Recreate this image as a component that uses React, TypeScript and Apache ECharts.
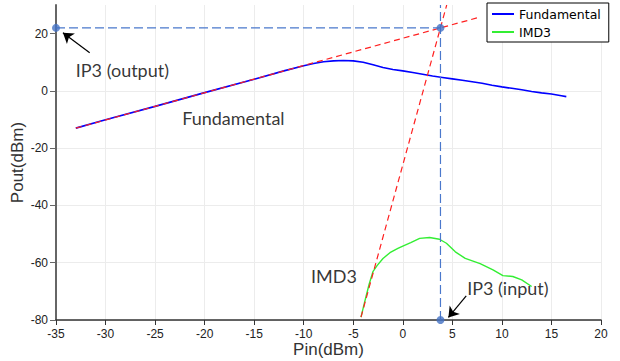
import React, { useEffect, useRef } from "react";
import * as echarts from "echarts";

// Axis settings
const xMin = -35;
const xMax = 20;
const xStep = 5;
const yMin = -80;
const yMax = 30;
const yStep = 20;
const yTickValues = [-80, -60, -40, -20, 0, 20];

// Fundamental output (dBm) vs input (dBm)
const fundX = [-33, -30, -25, -20, -15, -12, -10, -9, -8, -7, -6, -5, -4, -3, -2, -1, 0, 1, 2, 3, 4, 5, 6, 7, 8, 9, 10, 11, 12, 13, 14, 15, 16, 16.5];
const fundY = [-13, -10.1, -5.4, -0.6, 4.1, 7.0, 8.8, 9.6, 10.2, 10.5, 10.6, 10.5, 10.0, 9.1, 8.2, 7.5, 7.0, 6.4, 5.8, 5.2, 4.7, 4.2, 3.7, 3.2, 2.7, 2.0, 1.4, 0.9, 0.4, -0.2, -0.7, -1.1, -1.7, -2.0];

// IMD3 output
const imdX = [-4.22, -3.8, -3.4, -3.0, -2.6, -2.0, -1.3, -0.5, 0, 0.8, 1.7, 2.7, 3.7, 4.4, 5.3, 6.3, 7.8, 9.1, 10.1, 11.1, 12, 13];
const imdY = [-79, -73, -67.5, -63, -61, -58.5, -56.5, -55, -54.2, -53, -51.5, -51.2, -51.8, -53.2, -56.2, -58.5, -60.3, -62.5, -64.5, -64.8, -66, -68.3];

// Extrapolation lines (end points)
const fundExtX = [-33, 7.8];
const fundExtY = [-13, 25.8];
const imdExtX = [-4.22, 4.43];
const imdExtY = [-79, 30];

// Third-order intercept point
const ip3In = 3.8;
const ip3Out = 22;

// Annotations
const noteNames = ["IP3 (output)", "Fundamental", "IMD3", "IP3 (input)"];
const noteX = [-28.3, -17.1, -6.95, 10.6];
const noteY = [7.3, -9.3, -64.5, -68.8];
const arrowFromX = [-31.6, 6.4];
const arrowFromY = [13.3, -71.6];
const arrowToX = [-34.3, 4.6];
const arrowToY = [20.3, -79.1];

const zip = (xs: number[], ys: number[]) => xs.map((x, i) => [x, ys[i]]);

export default function App() {
  const ref = useRef<HTMLDivElement>(null);

  useEffect(() => {
    document.body.style.margin = "0";
    const chart = echarts.init(ref.current!, undefined, { renderer: "svg" });
    const guideColor = "#4a78cc";
    chart.setOption({
      animation: false,
      backgroundColor: "#ffffff",
      grid: { left: 56, right: 19, top: 5, bottom: 41, containLabel: false, outerBoundsMode: "none" },
      legend: {
        data: ["Fundamental", "IMD3"],
        orient: "vertical",
        left: 487,
        top: 3,
        padding: [4, 8, 3, 5],
        itemGap: 4,
        itemWidth: 22,
        itemHeight: 2,
        icon: "rect",
        borderColor: "#000",
        borderWidth: 1,
        borderRadius: 0,
        backgroundColor: "#fff",
        selectedMode: false,
        textStyle: { fontFamily: "DejaVu Sans", fontSize: 12.5, color: "#000", lineHeight: 14 },
      },
      xAxis: {
        type: "value",
        min: xMin,
        max: xMax,
        interval: xStep,
        name: "Pin(dBm)",
        nameLocation: "middle",
        nameGap: 21,
        nameMoveOverlap: false,
        nameTextStyle: { fontFamily: "Liberation Sans", fontSize: 17, color: "#333" },
        axisLine: { show: true, onZero: false, lineStyle: { color: "#333", width: 1.5 } },
        axisTick: { show: true, length: 5, lineStyle: { color: "#333", width: 1 } },
        axisLabel: { fontFamily: "Liberation Sans", fontSize: 12, color: "#222", margin: 8 },
        splitLine: { show: true, lineStyle: { color: "#ececec", width: 1 } },
      },
      yAxis: {
        type: "value",
        min: yMin,
        max: yMax,
        interval: yStep,
        name: "Pout(dBm)",
        nameLocation: "middle",
        nameGap: 30,
        nameMoveOverlap: false,
        nameTextStyle: { fontFamily: "Liberation Sans", fontSize: 17, color: "#333" },
        axisLine: { show: true, onZero: false, lineStyle: { color: "#666", width: 2 } },
        axisTick: { show: true, length: 6, customValues: yTickValues, lineStyle: { color: "#666", width: 1 } },
        axisLabel: { fontFamily: "Liberation Sans", fontSize: 12, color: "#222", margin: 8, customValues: yTickValues },
        splitLine: { show: true, showMaxLine: false, lineStyle: { color: "#ececec", width: 1 } },
      },
      series: [
        {
          name: "Fundamental",
          type: "line",
          data: zip(fundX, fundY),
          showSymbol: false,
          symbol: "none",
          color: "#0000ff",
          lineStyle: { color: "#0000ff", width: 1.6 },
          z: 3,
        },
        {
          name: "IMD3",
          type: "line",
          data: zip(imdX, imdY),
          showSymbol: false,
          symbol: "none",
          color: "#33ee33",
          lineStyle: { color: "#33ee33", width: 1.4 },
          z: 3,
        },
        {
          name: "fundExt",
          type: "line",
          data: zip(fundExtX, fundExtY),
          showSymbol: false,
          symbol: "none",
          lineStyle: { color: "#ff2020", width: 1.2, type: [6, 4] },
          z: 4,
        },
        {
          name: "imdExt",
          type: "line",
          data: zip(imdExtX, imdExtY),
          showSymbol: false,
          symbol: "none",
          lineStyle: { color: "#ff2020", width: 1.2, type: [6, 4] },
          z: 4,
        },
        {
          name: "ip3H",
          type: "line",
          data: [[xMin, ip3Out], [ip3In, ip3Out]],
          showSymbol: false,
          symbol: "none",
          lineStyle: { color: guideColor, width: 1.2, type: [9, 4] },
          z: 4,
        },
        {
          name: "ip3V",
          type: "line",
          data: [[ip3In, yMin], [ip3In, yMax]],
          showSymbol: false,
          symbol: "none",
          lineStyle: { color: guideColor, width: 1.2, type: [9, 4] },
          z: 4,
        },
        {
          name: "ip3Dots",
          type: "scatter",
          data: [[xMin, ip3Out], [ip3In, ip3Out], [ip3In, yMin]],
          symbolSize: 8,
          clip: false,
          itemStyle: { color: "#4472c4" },
          z: 6,
        },
        {
          name: "notes",
          type: "scatter",
          data: noteNames.map((n, i) => ({ name: n, value: [noteX[i], noteY[i]] })),
          symbolSize: 1,
          itemStyle: { color: "rgba(0,0,0,0)" },
          label: {
            show: true,
            position: "inside",
            formatter: (p: any) => p.name,
            fontFamily: "Lato",
            fontSize: 18,
            color: "#000",
          },
          silent: true,
          z: 7,
          markLine: {
            silent: true,
            symbol: ["none", "arrow"],
            symbolSize: 10,
            label: { show: false },
            lineStyle: { color: "#000", width: 1.2, type: "solid" },
            data: arrowFromX.map((x, i) => [
              { coord: [x, arrowFromY[i]] },
              { coord: [arrowToX[i], arrowToY[i]] },
            ]),
          },
        },
      ],
    });
    return () => chart.dispose();
  }, []);

  return <div ref={ref} style={{ position: "fixed", left: 0, top: 0, width: 620, height: 361 }} />;
}
